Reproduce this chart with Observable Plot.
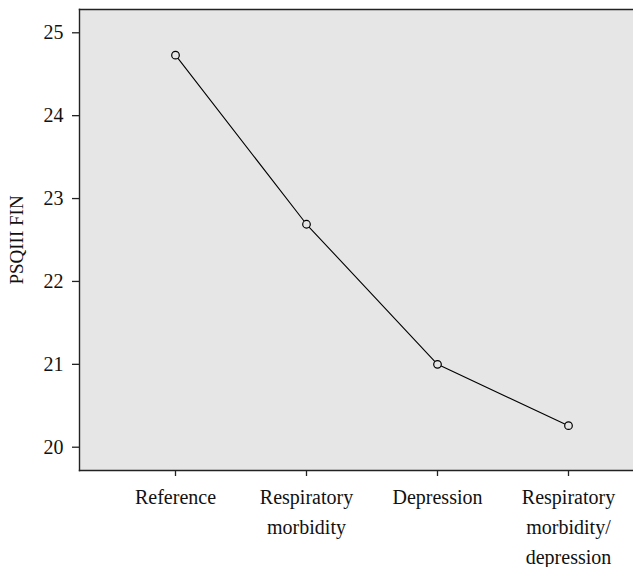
<!DOCTYPE html>
<html>
<head>
<meta charset="utf-8">
<script src="https://cdn.jsdelivr.net/npm/d3@7"></script>
<script src="https://cdn.jsdelivr.net/npm/@observablehq/plot@0.6"></script>
<style>
  html, body { margin: 0; padding: 0; background: #fff; }
  #chart svg { display: block; }
</style>
</head>
<body>
<div id="chart"></div>
<script>
const categories = ["Reference", "Respiratory morbidity", "Depression", "Respiratory morbidity/depression"];
const tickLabels = ["Reference", "Respiratory\nmorbidity", "Depression", "Respiratory\nmorbidity/\ndepression"];
const values = [24.73, 22.69, 21.0, 20.26];
const yTicks = [20, 21, 22, 23, 24, 25];
const yLabel = "PSQIII FIN";

const data = categories.map((c, i) => ({category: c, value: values[i]}));
const labelOf = new Map(categories.map((c, i) => [c, tickLabels[i]]));

const ink = "#222";
const serif = "'Liberation Serif', 'DejaVu Serif', serif";
const chart = Plot.plot({
  width: 633,
  height: 567,
  marginTop: 9,
  marginBottom: 97,
  marginLeft: 79,
  marginRight: 0,
  style: {fontFamily: serif, fontSize: "20px", color: "#111", background: "#fff"},
  x: {type: "point", domain: categories, range: [174, 569.3], padding: 0},
  y: {domain: [19.719, 25.281]},
  marks: [
    Plot.frame({fill: "#e6e6e6", stroke: "none"}),
    Plot.frame({anchor: "top", stroke: ink, strokeWidth: 1.4}),
    Plot.frame({anchor: "left", stroke: ink, strokeWidth: 1.4}),
    Plot.frame({anchor: "bottom", stroke: ink, strokeWidth: 1.4}),
    Plot.axisY({ticks: yTicks, tickFormat: "d", tickSize: 7, tickPadding: 9, label: null, stroke: ink, strokeWidth: 1.3, fontSize: 20, fontFamily: serif}),
    Plot.axisX({tickSize: 6, tickPadding: 6, label: null, tickFormat: d => labelOf.get(d), lineHeight: 1.5, stroke: ink, strokeWidth: 1.3, fontSize: 20, fontFamily: serif}),
    Plot.text([yLabel], {frameAnchor: "left", textAnchor: "middle", dx: -63, rotate: -90, fontSize: 19, fontFamily: serif, fill: "#111"}),
    Plot.line(data, {x: "category", y: "value", stroke: "#000", strokeWidth: 1.1}),
    Plot.dot(data, {x: "category", y: "value", r: 3.8, stroke: "#000", strokeWidth: 1.2, fill: "#e6e6e6"})
  ]
});
document.getElementById("chart").appendChild(chart);
</script>
</body>
</html>
